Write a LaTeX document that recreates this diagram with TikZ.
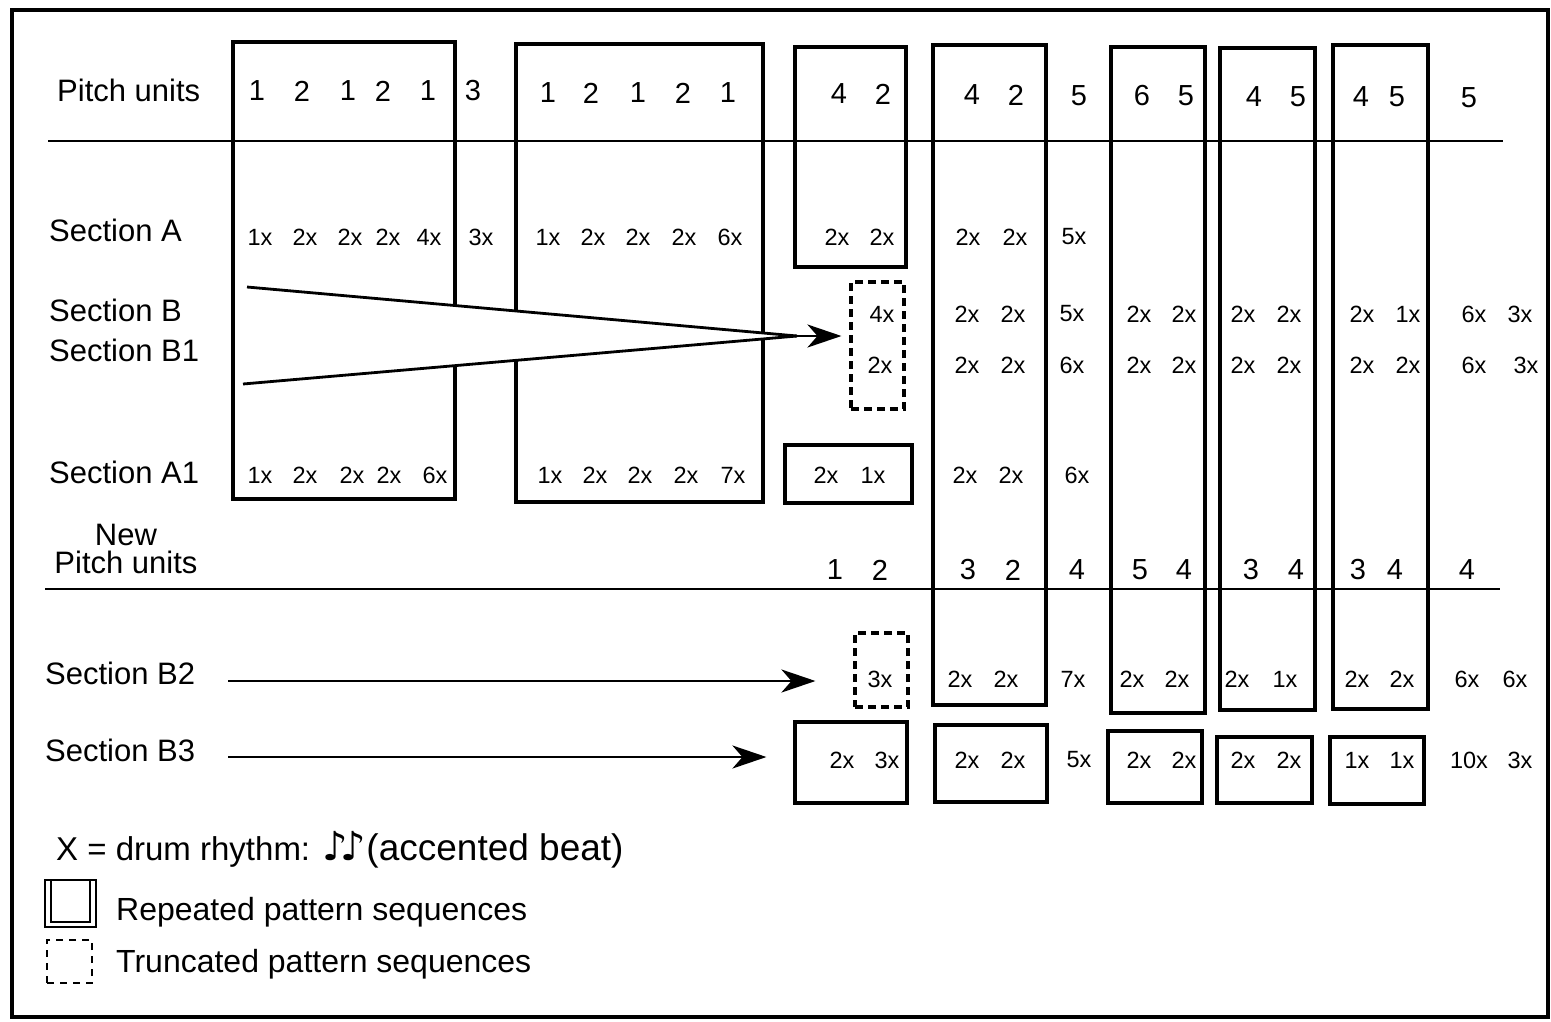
\documentclass[tikz,border=0pt]{standalone}
\usepackage{fontspec}
\setmainfont{Liberation Sans}
\newfontfamily\notefont{DejaVu Sans}
\usetikzlibrary{fit,arrows.meta}
\begin{document}
\begin{tikzpicture}[x=1pt,y=-1pt,
  box/.style={draw, line width=3.1pt, inner sep=0pt},
  tbox/.style={draw, line width=3.1pt, inner sep=0pt, dash pattern=on 8pt off 5pt},
  rule/.style={line width=2.7pt},
  lbl/.style={anchor=west, inner sep=0pt, font=\fontsize{31}{28}\selectfont},
  pu/.style={inner sep=0pt, font=\fontsize{29}{32}\selectfont},
  cnt/.style={inner sep=0pt, font=\fontsize{23.5}{26}\selectfont},
  leg/.style={anchor=base west, inner sep=0pt, font=\fontsize{32}{36}\selectfont},
  arr/.style={line width=2.8pt, -{Stealth[length=34pt,width=23pt,inset=10pt]}},
  ln/.style={line width=2.8pt}
]
\useasboundingbox (0,0) rectangle (1551,1021);
% outer frame
\draw[line width=3.2pt] (12,10) rectangle (1548,1017);
% rules
\draw[rule] (48,141) -- (1503,141);
\draw[rule] (45,589) -- (1500,589);
% repeated-pattern boxes
\node[box, fit={(233,42)(455,499)}] (R1) {};
\node[box, fit={(516,44)(763,502)}] (R2) {};
\node[box, fit={(795,47)(906,267)}] (R3) {};
\node[box, fit={(933,45)(1046,705)}] (R4) {};
\node[box, fit={(1111,47)(1205,713)}] (R5) {};
\node[box, fit={(1220,48)(1315,710)}] (R6) {};
\node[box, fit={(1333,45)(1428,709)}] (R7) {};
\node[box, fit={(785,445)(912,503)}] (R8) {};
\node[box, fit={(795,722)(907,803)}] (S1) {};
\node[box, fit={(935,725)(1047,802)}] (S2) {};
\node[box, fit={(1108,731)(1202,803)}] (S3) {};
\node[box, fit={(1217,737)(1312,803)}] (S4) {};
\node[box, fit={(1330,737)(1424,804)}] (S5) {};
% truncated boxes
\node[tbox, fit={(851,282)(904,409)}] (T1) {};
\node[tbox, fit={(855,633)(908,707)}] (T2) {};
% row labels
\node[lbl] (lPU) at (57,90) {Pitch units};
\node[lbl] (lA) at (49,230) {Section A};
\node[lbl] (lB) at (49,310) {Section B};
\node[lbl] (lB1) at (49,350) {Section B1};
\node[lbl] (lA1) at (49,472) {Section A1};
\node[inner sep=0pt, align=center, font=\fontsize{31}{28}\selectfont] (lNPU) at (126,549) {New\\Pitch units};
\node[lbl] (lB2) at (45,673) {Section B2};
\node[lbl] (lB3) at (45,750) {Section B3};
% pitch units
\foreach \x/\y/\t [count=\i] in {257/91/1,302/91/2,348/91/1,383/91/2,428/91/1,473/91/3,548/93/1,591/93/2,638/93/1,683/93/2,728/93/1,839/94/4,883/94/2,972/95/4,1016/95/2,1079/96/5,1142/96/6,1186/96/5,1254/97/4,1298/97/5,1361/97/4,1397/97/5,1469/98/5}
  \node[pu] (p\i) at (\x,\y) {\t};
% section A
\foreach \x/\t [count=\i] in {260/1x,305/2x,350/2x,388/2x,429/4x,481/3x,548/1x,593/2x,638/2x,684/2x,730/6x,837/2x,882/2x,968/2x,1015/2x,1074/5x}
  \node[cnt] (a\i) at (\x,237) {\t};
% section B
\foreach \x/\t [count=\i] in {882/4x,967/2x,1013/2x,1072/5x,1139/2x,1184/2x,1243/2x,1289/2x,1362/2x,1408/1x,1474/6x,1520/3x}
  \node[cnt] (b\i) at (\x,314) {\t};
% section B1
\foreach \x/\t [count=\i] in {880/2x,967/2x,1013/2x,1072/6x,1139/2x,1184/2x,1243/2x,1289/2x,1362/2x,1408/2x,1474/6x,1526/3x}
  \node[cnt] (bb\i) at (\x,365) {\t};
% section A1
\foreach \x/\t [count=\i] in {260/1x,305/2x,352/2x,389/2x,435/6x,550/1x,595/2x,640/2x,686/2x,733/7x,826/2x,873/1x,965/2x,1011/2x,1077/6x}
  \node[cnt] (aa\i) at (\x,475) {\t};
% new pitch units
\foreach \x/\t [count=\i] in {835/1,880/2,968/3,1013/2,1077/4,1140/5,1184/4,1251/3,1296/4,1358/3,1395/4,1467/4}
  \node[pu] (np\i) at (\x,570) {\t};
% section B2
\foreach \x/\t [count=\i] in {880/3x,960/2x,1006/2x,1073/7x,1132/2x,1177/2x,1237/2x,1285/1x,1357/2x,1402/2x,1467/6x,1515/6x}
  \node[cnt] (c\i) at (\x,679) {\t};
% section B3
\foreach \x/\t [count=\i] in {842/2x,887/3x,967/2x,1013/2x,1079/5x,1139/2x,1184/2x,1243/2x,1289/2x,1357/1x,1402/1x,1469/10x,1520/3x}
  \node[cnt] (d\i) at (\x,760) {\t};
% converging arrows B / B1
\coordinate (bS) at (247,287);
\coordinate (b1S) at (243,384);
\coordinate (cv) at (797,336);
\fill[white] (bS) -- (cv) -- (b1S) -- cycle;
\draw[ln] (bS) -- (cv);
\draw[ln] (b1S) -- (cv);
\draw[arr, shorten >=8pt] (cv) -- (cv -| T1.west);
% B2, B3 arrows
\coordinate (b2s) at (228,681);
\coordinate (b3s) at (228,757);
\draw[arr, shorten >=38pt] (b2s) -- (b2s -| T2.west);
\draw[arr, shorten >=27pt] (b3s) -- (b3s -| S1.west);
% legend
\node[anchor=base west, inner sep=0pt] (legX) at (56,860)
  {{\fontsize{33}{36}\selectfont X = drum rhythm: }{\notefont\fontsize{40}{40}\selectfont ♪\kern-7pt♪}{\fontsize{37}{44}\selectfont(accented beat)}};
\node[box, line width=2.4pt, fit={(45,880)(96,927)}] (legR1) {};
\node[box, line width=2.4pt, fit={(51,880)(90,922)}] (legR2) {};
\node[leg] (legRt) at (116,920) {Repeated pattern sequences};
\node[tbox, line width=2.7pt, dash pattern=on 7pt off 6pt, fit={(47,940)(92,983)}] (legT) {};
\node[leg] (legTt) at (116,972) {Truncated pattern sequences};
\end{tikzpicture}
\end{document}
